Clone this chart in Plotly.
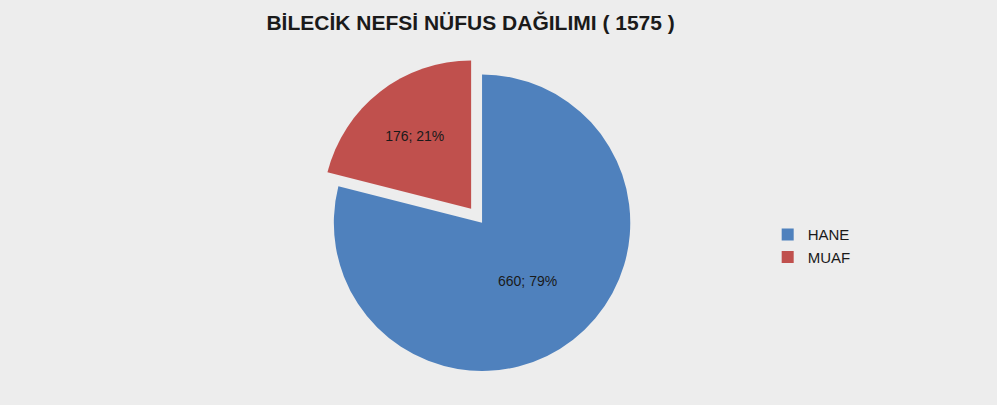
import plotly.graph_objects as go

labels = ["HANE", "MUAF"]
values = [660, 176]
colors = ["#4F81BD", "#C0504D"]
pulls = [0, 0.12]

fig = go.Figure()
fig.add_trace(go.Pie(
    labels=labels,
    values=values,
    sort=False,
    direction="clockwise",
    rotation=0,
    pull=pulls,
    marker=dict(colors=colors, line=dict(width=0)),
    texttemplate="%{value}; %{percent:.0%}",
    textposition="inside",
    insidetextfont=dict(color="#1a1a1a", size=14, family="Liberation Sans, Arial, sans-serif"),
    hoverinfo="label+value+percent",
    domain=dict(x=[0.317, 0.65], y=[0.04, 0.86]),
    showlegend=True,
))

fig.update_layout(
    width=997,
    height=405,
    margin=dict(l=0, r=0, t=0, b=0),
    paper_bgcolor="#EDEDED",
    plot_bgcolor="#EDEDED",
    title=dict(
        text="<b>BİLECİK NEFSİ NÜFUS DAĞILIMI ( 1575 )</b>",
        x=0.472, xanchor="center",
        y=0.945, yanchor="middle",
        font=dict(family="Liberation Sans, Arial, sans-serif", size=21, color="#1a1a1a"),
    ),
    legend=dict(
        x=0.77, xanchor="left",
        y=0.393, yanchor="middle",
        bgcolor="rgba(0,0,0,0)",
        font=dict(family="Liberation Sans, Arial, sans-serif", size=15, color="#1a1a1a"),
        itemwidth=30,
    ),
)

fig.write_html(
    "out.html",
    config={"displayModeBar": False},
    post_script="document.body.style.margin='0';document.body.style.background='#EDEDED';",
)
